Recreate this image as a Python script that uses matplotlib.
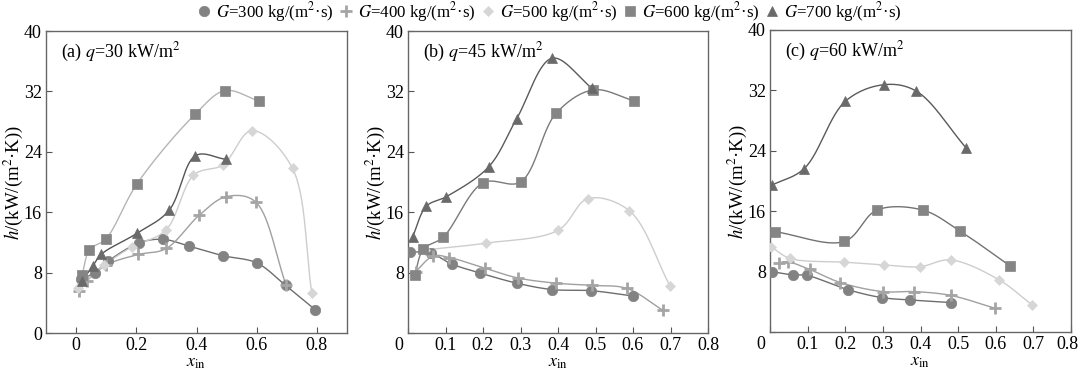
import matplotlib
matplotlib.use("Agg")
import matplotlib.pyplot as plt
from matplotlib.lines import Line2D
from matplotlib.transforms import ScaledTranslation
import numpy as np

plt.rcParams["font.family"] = ["Liberation Serif", "DejaVu Serif"]
plt.rcParams["mathtext.fontset"] = "stix"
plt.rcParams["font.size"] = 13

# ---- data (x_in, h in kW/(m2.K)) ----
# panel (a) q = 30 kW/m2
a_x300 = [0.015, 0.062, 0.106, 0.21, 0.29, 0.376, 0.487, 0.602, 0.696, 0.794]
a_h300 = [7.1, 8.0, 9.5, 11.95, 12.4, 11.5, 10.25, 9.25, 6.3, 3.1]
a_x400 = [0.01, 0.036, 0.10, 0.207, 0.30, 0.409, 0.498, 0.598, 0.698]
a_h400 = [5.5, 6.9, 9.0, 10.4, 11.2, 15.6, 18.05, 17.3, 6.3]
a_x500 = [0.005, 0.094, 0.185, 0.30, 0.39, 0.489, 0.583, 0.719, 0.783]
a_h500 = [6.0, 9.0, 11.4, 13.7, 20.9, 22.3, 26.8, 21.8, 5.3]
a_x600 = [0.02, 0.044, 0.10, 0.203, 0.396, 0.494, 0.606]
a_h600 = [7.65, 11.0, 12.5, 19.8, 29.0, 32.1, 30.75]
a_x700 = [0.02, 0.055, 0.083, 0.202, 0.31, 0.395, 0.498]
a_h700 = [6.9, 8.85, 10.4, 13.2, 16.3, 23.45, 23.0]

# panel (b) q = 45 kW/m2
b_x300 = [0.005, 0.06, 0.116, 0.192, 0.29, 0.385, 0.489, 0.60]
b_h300 = [10.75, 10.6, 9.15, 7.95, 6.6, 5.75, 5.6, 4.9]
b_x400 = [0.02, 0.067, 0.11, 0.204, 0.292, 0.395, 0.49, 0.584, 0.68]
b_h400 = [8.1, 10.2, 10.0, 8.6, 7.3, 6.6, 6.3, 5.9, 3.0]
b_x500 = [0.045, 0.207, 0.40, 0.48, 0.59, 0.699]
b_h500 = [11.0, 11.9, 13.6, 17.8, 16.2, 6.2]
b_x600 = [0.018, 0.041, 0.094, 0.20, 0.30, 0.395, 0.494, 0.603]
b_h600 = [7.7, 11.1, 12.7, 19.9, 20.0, 29.1, 32.2, 30.75]
b_x700 = [0.012, 0.049, 0.102, 0.215, 0.29, 0.385, 0.491]
b_h700 = [12.7, 16.8, 18.05, 22.0, 28.4, 36.4, 32.4]

# panel (c) q = 60 kW/m2
c_x300 = [0.005, 0.062, 0.098, 0.207, 0.298, 0.371, 0.48]
c_h300 = [8.0, 7.55, 7.5, 5.6, 4.55, 4.25, 3.9]
c_x400 = [0.025, 0.047, 0.105, 0.187, 0.30, 0.382, 0.48, 0.598]
c_h400 = [9.2, 9.3, 8.3, 6.55, 5.35, 5.35, 4.85, 3.15]
c_x500 = [0.003, 0.053, 0.198, 0.302, 0.398, 0.48, 0.609, 0.696]
c_h500 = [11.3, 9.75, 9.25, 8.9, 8.65, 9.55, 6.9, 3.6]
c_x600 = [0.012, 0.198, 0.284, 0.406, 0.504, 0.638]
c_h600 = [13.3, 12.0, 16.15, 16.15, 13.4, 8.75]
c_x700 = [0.005, 0.091, 0.20, 0.302, 0.389, 0.521]
c_h700 = [19.45, 21.65, 30.55, 32.75, 31.9, 24.4]

mass_flux = [300, 400, 500, 600, 700]
panel_labels = ["(a) $q$=30 kW/m$^2$", "(b) $q$=45 kW/m$^2$", "(c) $q$=60 kW/m$^2$"]

panels = [
    [(a_x300, a_h300), (a_x400, a_h400), (a_x500, a_h500), (a_x600, a_h600), (a_x700, a_h700)],
    [(b_x300, b_h300), (b_x400, b_h400), (b_x500, b_h500), (b_x600, b_h600), (b_x700, b_h700)],
    [(c_x300, c_h300), (c_x400, c_h400), (c_x500, c_h500), (c_x600, c_h600), (c_x700, c_h700)],
]

# marker styles per G
STYLE = {
    300: dict(marker="o", ms=7.5, mfc="#828282", mec="#828282", mew=0.5),
    400: dict(marker="+", ms=9, mfc="#a5a5a5", mec="#a5a5a5", mew=2.0),
    500: dict(marker="D", ms=5.5, mfc="#d6d6d6", mec="#d6d6d6", mew=0.5),
    600: dict(marker="s", ms=7.5, mfc="#858585", mec="#858585", mew=0.5),
    700: dict(marker="^", ms=7.5, mfc="#6a6a6a", mec="#6a6a6a", mew=0.5),
}
LINE_COLORS = [
    {300: "#6e6e6e", 400: "#a0a0a0", 500: "#cdcdcd", 600: "#b5b5b5", 700: "#555555"},
    {300: "#6e6e6e", 400: "#a0a0a0", 500: "#cdcdcd", 600: "#7a7a7a", 700: "#5a5a5a"},
    {300: "#6e6e6e", 400: "#a0a0a0", 500: "#cdcdcd", 600: "#727272", 700: "#5a5a5a"},
]
XLIMS = [(-0.1, 0.9), (0.0, 0.8), (0.0, 0.8)]


def smooth_curve(xs, ys, xr, yr, n=30):
    """Centripetal Catmull-Rom through the points, in axis-normalised space."""
    P = np.column_stack([np.asarray(xs) / xr, np.asarray(ys) / yr])
    if len(P) < 3:
        return P[:, 0] * xr, P[:, 1] * yr
    P = np.vstack([2 * P[0] - P[1], P, 2 * P[-1] - P[-2]])
    out = []
    for i in range(1, len(P) - 2):
        p0, p1, p2, p3 = P[i - 1], P[i], P[i + 1], P[i + 2]
        t0 = 0.0
        t1 = t0 + max(np.linalg.norm(p1 - p0), 1e-6) ** 0.5
        t2 = t1 + max(np.linalg.norm(p2 - p1), 1e-6) ** 0.5
        t3 = t2 + max(np.linalg.norm(p3 - p2), 1e-6) ** 0.5
        t = np.linspace(t1, t2, n)[:, None]
        a1 = (t1 - t) / (t1 - t0) * p0 + (t - t0) / (t1 - t0) * p1
        a2 = (t2 - t) / (t2 - t1) * p1 + (t - t1) / (t2 - t1) * p2
        a3 = (t3 - t) / (t3 - t2) * p2 + (t - t2) / (t3 - t2) * p3
        b1 = (t2 - t) / (t2 - t0) * a1 + (t - t0) / (t2 - t0) * a2
        b2 = (t3 - t) / (t3 - t1) * a2 + (t - t1) / (t3 - t1) * a3
        c = (t2 - t) / (t2 - t1) * b1 + (t - t1) / (t2 - t1) * b2
        out.append(c)
    C = np.vstack(out)
    return C[:, 0] * xr, C[:, 1] * yr


def shift_label(lbl, dx_px, fig):
    lbl.set_transform(lbl.get_transform() + ScaledTranslation(dx_px / 100, 0, fig.dpi_scale_trans))


fig = plt.figure(figsize=(10.8, 3.73), dpi=100)
W, H = 1080, 373
boxes = [(46, 31, 347, 333), (408, 31, 708, 333), (770, 30, 1071, 332)]

for k, (l, t, r, b) in enumerate(boxes):
    ax = fig.add_axes([l / W, 1 - b / H, (r - l) / W, (b - t) / H])
    xlo, xhi = XLIMS[k]
    for G, (xs, hs) in zip(mass_flux, panels[k]):
        sx, sy = smooth_curve(xs, hs, 0.8, 40.0)
        ax.plot(sx, sy, color=LINE_COLORS[k][G], lw=1.0, zorder=2)
        ax.plot(xs, hs, ls="none", zorder=3, **STYLE[G])
    ax.set_xlim(xlo, xhi)
    ax.set_ylim(0, 40)
    ax.set_yticks([0, 8, 16, 24, 32, 40])
    if k == 0:
        ax.set_xticks([0, 0.2, 0.4, 0.6, 0.8])
        ax.set_xticklabels(["0", "0.2", "0.4", "0.6", "0.8"])
    else:
        ax.set_xticks([0, 0.1, 0.2, 0.3, 0.4, 0.5, 0.6, 0.7, 0.8])
        ax.set_xticklabels(["0", "0.1", "0.2", "0.3", "0.4", "0.5", "0.6", "0.7", "0.8"])
        ax.set_yticklabels(["", "8", "16", "24", "32", "40"])
    ax.tick_params(direction="in", length=4, width=0.8, color="#555555",
                   labelsize=13, pad=3)
    if k > 0:
        # the shared corner "0" sits left of the spine in the reference
        shift_label(ax.get_xticklabels()[0], -9, fig)
    if k == 2:
        shift_label(ax.get_xticklabels()[-1], -4, fig)
    for sp in ax.spines.values():
        sp.set_color("#666666")
        sp.set_linewidth(1.0)
    ax.set_xlabel(r"$x_{\mathrm{in}}$", fontsize=13)
    ax.xaxis.set_label_coords(0.5, -0.068)
    ax.set_ylabel(r"$h$/(kW/(m$^2$·K))", fontsize=13.5)
    ax.yaxis.set_label_coords(-0.07, 0.5)
    ax.text(0.05, 0.93, panel_labels[k], transform=ax.transAxes,
            fontsize=13, va="center", ha="left")

handles = [Line2D([], [], ls="none", **STYLE[G]) for G in mass_flux]
labels = [f"$G$={G} kg/(m$^2$·s)" for G in mass_flux]
fig.legend(handles, labels, loc="center", bbox_to_anchor=(0.509, 1 - 12 / H),
           ncol=5, frameon=False, fontsize=12.2, handlelength=0.7,
           handletextpad=0.35, columnspacing=0.4, borderaxespad=0)

fig.savefig("out.png", dpi=100)
